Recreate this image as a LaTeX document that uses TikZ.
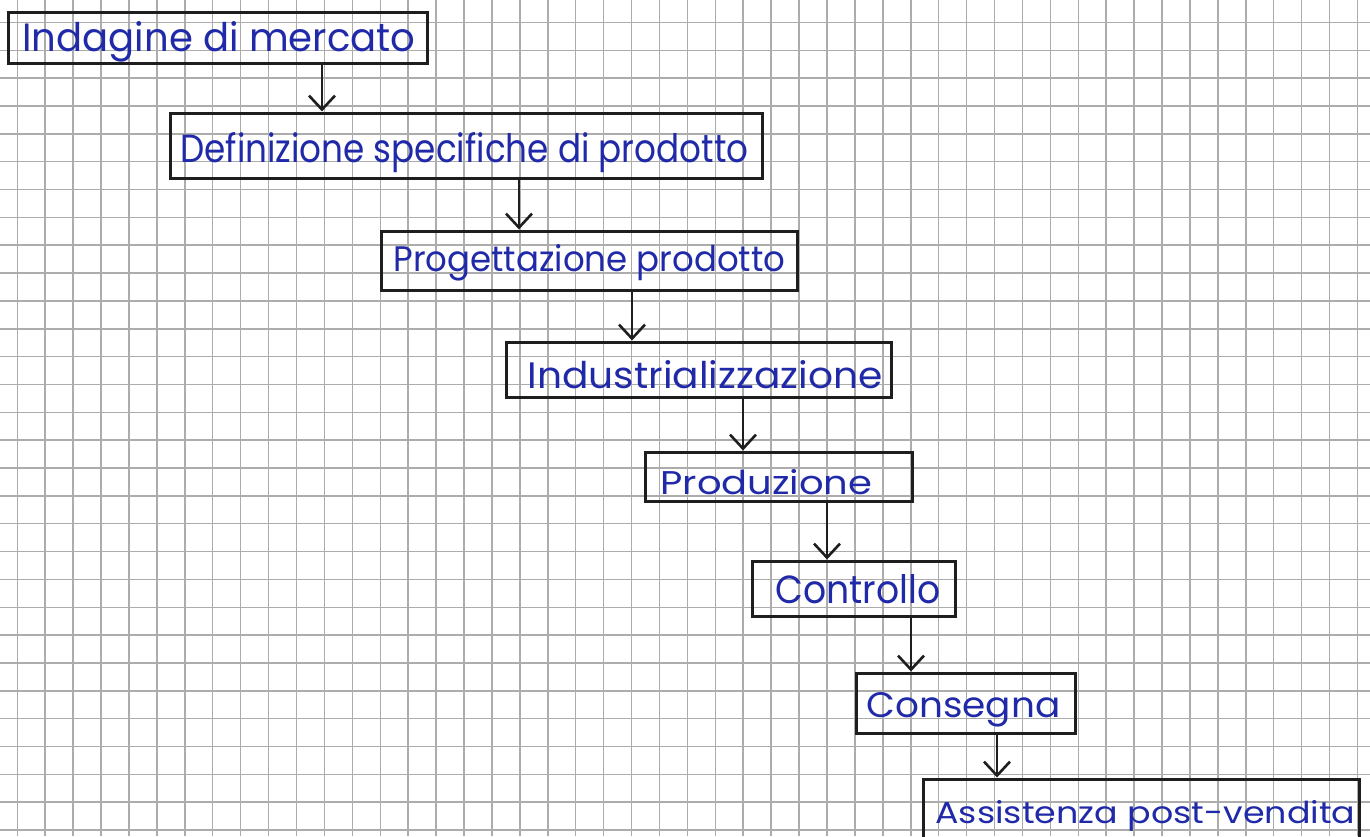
\documentclass[tikz,border=0pt]{standalone}
\usepackage{fontspec}
\setmainfont{Poppins}
\usetikzlibrary{arrows.meta}
\definecolor{ink}{RGB}{32,42,168}
\definecolor{pen}{RGB}{30,30,30}
\definecolor{gridline}{RGB}{172,172,172}
\newlength\px \setlength\px{0.5pt}
% handwritten label: stretched to a given width and height (in px)
\newcommand\hw[3]{\resizebox{#1\px}{#2\px}{#3}}
\begin{document}
\begin{tikzpicture}[x=0.5pt,y=-0.5pt,
  stepbox/.style={draw=pen, line width=1.5pt, rectangle, inner sep=0pt},
  label/.style={anchor=base west, inner sep=0pt, text=ink},
  arr/.style={draw=pen, line width=1.3pt, -{Straight Barb[length=7pt,width=13pt]}}]
\clip (0,0) rectangle (1370,836);
\fill[white] (0,0) rectangle (1370,836);
% squared paper
\foreach \k in {0,...,48} \draw[gridline, line width=0.75pt] (17.3+27.92*\k,0) -- (17.3+27.92*\k,836);
\foreach \k in {0,...,29} \draw[gridline, line width=0.75pt] (0,22.4+27.85*\k) -- (1370,22.4+27.85*\k);
% boxes
\node[stepbox, minimum width=419\px, minimum height=51\px] (b1) at (217.5,37.5) {};
\node[stepbox, minimum width=592\px, minimum height=65\px] (b2) at (466,145.5) {};
\node[stepbox, minimum width=416\px, minimum height=59\px] (b3) at (589,260.5) {};
\node[stepbox, minimum width=385\px, minimum height=55\px] (b4) at (698.5,369.5) {};
\node[stepbox, minimum width=267\px, minimum height=49\px] (b5) at (778.5,476.5) {};
\node[stepbox, minimum width=203\px, minimum height=55\px] (b6) at (853.5,588.5) {};
\node[stepbox, minimum width=219\px, minimum height=60\px] (b7) at (965.5,703) {};
\node[stepbox, minimum width=436\px, minimum height=101\px] (b8) at (1141,829.5) {};
% labels
\node[label] (t1) at (22,51) {\hw{393}{30}{Indagine di mercato}};
\node[label] (t2) at (180,162) {\hw{568}{30}{Definizione specifiche di prodotto}};
\node[label] (t3) at (393,271) {\hw{392}{27}{Progettazione prodotto}};
\node[label] (t4) at (527,388) {\hw{355}{28}{Industrializzazione}};
\node[label] (t5) at (660,494) {\hw{212}{25}{Produzione}};
\node[label] (t6) at (775,603) {\hw{165}{29}{Controllo}};
\node[label] (t7) at (866,717) {\hw{194}{25}{Consegna}};
\node[label] (t8) at (935,823) {\hw{420}{23}{Assistenza post-vendita}};
% arrow columns
\coordinate (a1) at (322,0);
\coordinate (a2) at (519,0);
\coordinate (a3) at (632,0);
\coordinate (a4) at (743,0);
\coordinate (a5) at (827,0);
\coordinate (a6) at (911,0);
\coordinate (a7) at (997,0);
\draw[arr] (b1.south -| a1) -- (b2.north -| a1);
\draw[arr] (b2.south -| a2) -- (b3.north -| a2);
\draw[arr] (b3.south -| a3) -- (b4.north -| a3);
\draw[arr] (b4.south -| a4) -- (b5.north -| a4);
\draw[arr] (b5.south -| a5) -- (b6.north -| a5);
\draw[arr] (b6.south -| a6) -- (b7.north -| a6);
\draw[arr] (b7.south -| a7) -- (b8.north -| a7);
\end{tikzpicture}
\end{document}
